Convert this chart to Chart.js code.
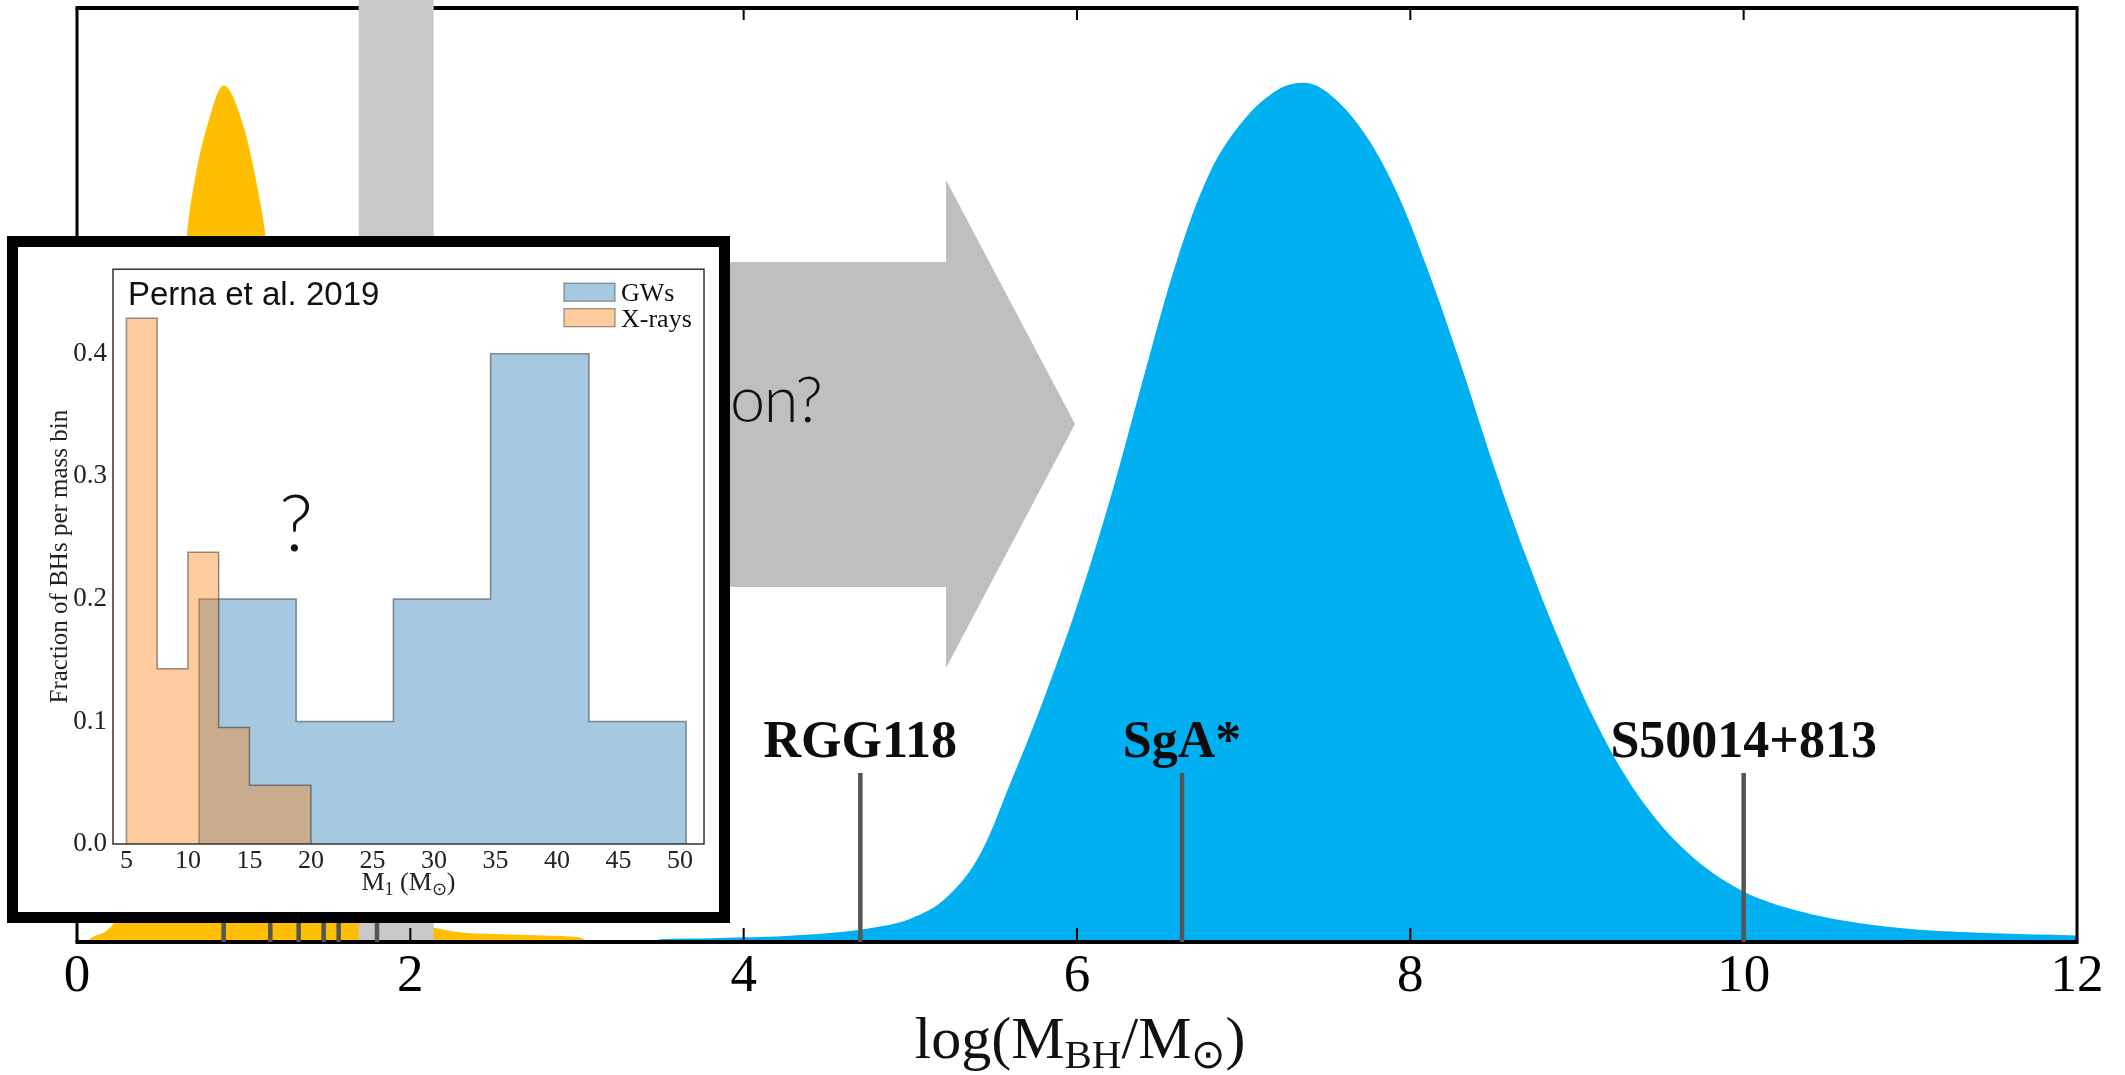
<!DOCTYPE html>
<html lang="en">
<head>
<meta charset="UTF-8" />
<title>Black hole mass distribution</title>
<style>
  body { margin: 0; background: #fff; }
  #stage { position: relative; width: 2125px; height: 1075px; overflow: hidden; background: #fff; }
  #mainChart { position: absolute; left: 0; top: 0; }
  .arrow {
    position: absolute; left: 700px; top: 180px; width: 375px; height: 488px;
    background: #bfbfbf;
    clip-path: polygon(0 82px, 246px 82px, 246px 0, 375px 244px, 246px 488px, 246px 407px, 0 407px);
  }
  .arrow-text {
    position: absolute; left: 730px; top: 366px;
    font-family: 'Lato', 'Roboto', sans-serif; font-weight: 300;
    font-size: 63px; line-height: 63px; letter-spacing: -1.5px; color: #111; white-space: nowrap;
  }
  .inset {
    position: absolute; left: 7px; top: 236px; width: 723px; height: 687px;
    box-sizing: border-box; border: 11px solid #000; background: #fff;
  }
  #insetChart { position: absolute; left: 0; top: 0; }
</style>
</head>
<body>
<div id="stage">
  <canvas id="mainChart" width="2125" height="1075"></canvas>
  <div class="arrow"></div>
  <div class="arrow-text">on?</div>
  <div class="inset">
    <canvas id="insetChart" width="701" height="665"></canvas>
  </div>
</div>

<script src="https://cdn.jsdelivr.net/npm/chart.js@4.4.0/dist/chart.umd.min.js"></script>
<script>
  // main panel: log(M_BH / M_sun)
  const xTicks = [0, 2, 4, 6, 8, 10, 12];

  // stellar-mass black holes (yellow)
  const stellarX = [0.05, 0.10, 0.17, 0.22, 0.30, 0.40, 0.50, 0.58, 0.66, 0.71, 0.78, 0.88, 1.00, 1.07, 1.13,
                    1.20, 1.30, 1.40, 1.50, 1.60, 1.70, 1.85, 2.00, 2.15, 2.27, 2.40, 2.60, 2.80, 2.95, 3.03, 3.06];
  const stellarY = [0.000, 0.006, 0.011, 0.020, 0.045, 0.130, 0.330, 0.560, 0.757, 0.819, 0.873, 0.917, 0.873, 0.819, 0.757,
                    0.640, 0.440, 0.260, 0.140, 0.070, 0.040, 0.025, 0.019, 0.015, 0.011, 0.009, 0.008, 0.007, 0.006, 0.004, 0.000];

  // supermassive black holes (blue)
  const smbhX = [3.45, 3.50, 3.80, 4.00, 4.20, 4.40, 4.60, 4.80, 5.00, 5.20, 5.40, 5.60, 5.80, 6.00, 6.20, 6.40, 6.60,
                 6.80, 7.00, 7.20, 7.36, 7.50, 7.70, 7.90, 8.10, 8.30, 8.50, 8.70, 8.90, 9.10, 9.30, 9.50, 9.70, 9.90,
                 10.10, 10.40, 10.70, 11.00, 11.40, 11.80, 12.00];
  const smbhY = [0.000, 0.003, 0.004, 0.005, 0.006, 0.008, 0.011, 0.016, 0.025, 0.045, 0.088, 0.170, 0.260, 0.360, 0.475, 0.605, 0.730,
                 0.825, 0.880, 0.912, 0.920, 0.910, 0.872, 0.810, 0.722, 0.620, 0.510, 0.410, 0.320, 0.240, 0.175, 0.126, 0.090, 0.064,
                 0.046, 0.030, 0.020, 0.014, 0.010, 0.008, 0.007];

  // mass gap band and individual objects
  const gapRange = [1.69, 2.14];
  const markerX = [0.88, 1.16, 1.33, 1.48, 1.57, 1.80, 4.70, 6.63, 10.00];
  const markerTop = 0.181;
  const labelNames = ['RGG118', 'SgA*', 'S50014+813'];
  const labelX = [4.70, 6.63, 10.00];
  const labelY = 0.198;

  // inset: Perna et al. 2019 histograms
  const gwEdges = [10.9, 18.8, 26.7, 34.6, 42.6, 50.5];
  const gwFrac = [0.2, 0.1, 0.2, 0.4, 0.1];
  const xrEdges = [5.0, 7.5, 10.0, 12.5, 15.0, 17.5, 20.0];
  const xrFrac = [0.429, 0.143, 0.238, 0.095, 0.048, 0.048];
  const insetXTicks = [5, 10, 15, 20, 25, 30, 35, 40, 45, 50];
  const insetYTicks = [0.0, 0.1, 0.2, 0.3, 0.4];

  const serif = "'Liberation Serif', 'Times New Roman', serif";

  function toPoints(xs, ys) {
    return xs.map((x, i) => ({ x, y: ys[i] }));
  }

  // histogram outline as a stepped line
  function stepPoints(edges, vals) {
    const pts = [{ x: edges[0], y: 0 }];
    vals.forEach((v, i) => pts.push({ x: edges[i], y: v }));
    pts.push({ x: edges[edges.length - 1], y: 0 });
    return pts;
  }

  // text with subscripts, centred on cx
  function drawSubText(ctx, parts, cx, baseY, bigFont, smallFont, drop) {
    let total = 0;
    const widths = parts.map(([t, sub]) => {
      ctx.font = sub ? smallFont : bigFont;
      const w = ctx.measureText(t).width;
      total += w;
      return w;
    });
    let px = cx - total / 2;
    ctx.textAlign = 'left';
    ctx.textBaseline = 'alphabetic';
    parts.forEach(([t, sub], i) => {
      ctx.font = sub ? smallFont : bigFont;
      ctx.fillText(t, px, baseY + (sub ? drop : 0));
      px += widths[i];
    });
  }

  const mainBack = {
    id: 'mainBack',
    beforeDatasetsDraw(chart) {
      const { ctx, chartArea: a, scales: { x } } = chart;
      ctx.save();
      ctx.strokeStyle = '#000';
      ctx.lineWidth = 4;
      ctx.beginPath();
      ctx.moveTo(a.left - 1.5, a.top);
      ctx.lineTo(a.right + 1.5, a.top);
      ctx.stroke();
      ctx.lineWidth = 2;
      xTicks.forEach(v => {
        const px = x.getPixelForValue(v);
        ctx.beginPath();
        ctx.moveTo(px, a.top);
        ctx.lineTo(px, a.top + 12);
        ctx.stroke();
      });
      ctx.restore();
    }
  };

  const mainFront = {
    id: 'mainFront',
    afterDatasetsDraw(chart) {
      const { ctx, chartArea: a, scales: { x, y } } = chart;
      const y0 = y.getPixelForValue(0);
      ctx.save();
      // mass gap band, runs up past the frame
      const g0 = x.getPixelForValue(gapRange[0]);
      const g1 = x.getPixelForValue(gapRange[1]);
      ctx.fillStyle = '#c9c9c9';
      ctx.fillRect(g0, 0, g1 - g0, y0);

      // frame: left, right, bottom + inward ticks
      ctx.strokeStyle = '#000';
      ctx.lineWidth = 3;
      ctx.beginPath();
      ctx.moveTo(a.left, a.top);
      ctx.lineTo(a.left, a.bottom);
      ctx.moveTo(a.right, a.top);
      ctx.lineTo(a.right, a.bottom);
      ctx.stroke();
      ctx.lineWidth = 4;
      ctx.beginPath();
      ctx.moveTo(a.left - 1.5, a.bottom);
      ctx.lineTo(a.right + 1.5, a.bottom);
      ctx.stroke();
      ctx.lineWidth = 2;
      xTicks.forEach(v => {
        const px = x.getPixelForValue(v);
        ctx.beginPath();
        ctx.moveTo(px, a.bottom);
        ctx.lineTo(px, a.bottom - 14);
        ctx.stroke();
      });

      // individual black holes
      ctx.strokeStyle = '#555';
      ctx.lineWidth = 4.5;
      markerX.forEach(v => {
        const px = x.getPixelForValue(v);
        ctx.beginPath();
        ctx.moveTo(px, y0);
        ctx.lineTo(px, y.getPixelForValue(markerTop));
        ctx.stroke();
      });

      ctx.fillStyle = '#0d0d0d';
      ctx.font = 'bold 52px ' + serif;
      ctx.textAlign = 'center';
      ctx.textBaseline = 'alphabetic';
      labelNames.forEach((name, i) => {
        ctx.fillText(name, x.getPixelForValue(labelX[i]), y.getPixelForValue(labelY));
      });
      ctx.restore();
    },
    afterDraw(chart) {
      const { ctx, chartArea: a } = chart;
      ctx.save();
      ctx.fillStyle = '#111';
      drawSubText(ctx, [['log(M', false], ['BH', true], ['/M', false], ['\u2299', true], [')', false]],
        (a.left + a.right) / 2 + 3, a.bottom + 116, '60px ' + serif, '41px ' + serif, 10);
      ctx.restore();
    }
  };

  new Chart(document.getElementById('mainChart'), {
    type: 'line',
    data: {
      datasets: [
        {
          label: 'Stellar-mass BHs',
          data: toPoints(stellarX, stellarY),
          backgroundColor: '#ffbf00',
          borderWidth: 0,
          pointRadius: 0,
          fill: 'origin',
          cubicInterpolationMode: 'monotone'
        },
        {
          label: 'Supermassive BHs',
          data: toPoints(smbhX, smbhY),
          backgroundColor: '#00b0f0',
          borderWidth: 0,
          pointRadius: 0,
          fill: 'origin',
          tension: 0.35
        }
      ]
    },
    options: {
      responsive: false,
      animation: false,
      layout: { padding: { left: 77, right: 48, top: 8, bottom: 0 } },
      plugins: { legend: { display: false }, tooltip: { enabled: false } },
      scales: {
        x: {
          type: 'linear',
          min: 0,
          max: 12,
          afterBuildTicks: s => { s.ticks = xTicks.map(v => ({ value: v })); },
          afterFit: s => { s.height = 133; },
          grid: { display: false, drawTicks: false },
          border: { display: false },
          ticks: { color: '#000', padding: 3, font: { family: serif, size: 53 } }
        },
        y: { min: 0, max: 1, display: false }
      }
    },
    plugins: [mainBack, mainFront]
  });

  const insetDecor = {
    id: 'insetDecor',
    afterDatasetsDraw(chart) {
      const { ctx, chartArea: a } = chart;
      ctx.save();
      ctx.strokeStyle = '#333';
      ctx.lineWidth = 1.5;
      ctx.strokeRect(a.left, a.top, a.right - a.left, a.bottom - a.top);

      // legend
      const sets = chart.data.datasets;
      ctx.font = '26px ' + serif;
      ctx.textAlign = 'left';
      ctx.textBaseline = 'alphabetic';
      [sets[0], sets[1]].forEach((ds, i) => {
        const top = a.top + 14 + i * 25.5;
        ctx.fillStyle = ds.backgroundColor;
        ctx.fillRect(a.right - 140, top, 51, 18);
        ctx.strokeStyle = ds.borderColor;
        ctx.lineWidth = 1.2;
        ctx.strokeRect(a.right - 140, top, 51, 18);
        ctx.fillStyle = '#111';
        ctx.fillText(ds.label, a.right - 83, top + 18);
      });

      ctx.fillStyle = '#111';
      ctx.font = "33px 'Liberation Sans', Arial, sans-serif";
      ctx.fillText('Perna et al. 2019', a.left + 15, a.top + 36);

      ctx.font = "300 78px 'Lato', 'Roboto', sans-serif";
      ctx.textAlign = 'center';
      ctx.fillText('?', a.left + 183, a.top + 282);
      ctx.restore();
    },
    afterDraw(chart) {
      const { ctx, chartArea: a } = chart;
      ctx.save();
      ctx.fillStyle = '#222';
      drawSubText(ctx, [['M', false], ['1', true], [' (M', false], ['\u2299', true], [')', false]],
        (a.left + a.right) / 2, a.bottom + 46, '26px ' + serif, '18px ' + serif, 5);
      ctx.restore();
    }
  };

  new Chart(document.getElementById('insetChart'), {
    type: 'line',
    data: {
      datasets: [
        {
          label: 'GWs',
          data: stepPoints(gwEdges, gwFrac),
          stepped: 'before',
          backgroundColor: 'rgba(31,119,180,0.4)',
          borderColor: 'rgba(40,40,40,0.5)',
          borderWidth: 1.5,
          pointRadius: 0,
          fill: 'origin',
          order: 2
        },
        {
          label: 'X-rays',
          data: stepPoints(xrEdges, xrFrac),
          stepped: 'before',
          backgroundColor: 'rgba(255,127,14,0.4)',
          borderColor: 'rgba(40,40,40,0.5)',
          borderWidth: 1.5,
          pointRadius: 0,
          fill: 'origin',
          order: 1
        }
      ]
    },
    options: {
      responsive: false,
      animation: false,
      layout: { padding: { left: 0, right: 15, top: 21, bottom: 0 } },
      plugins: { legend: { display: false }, tooltip: { enabled: false } },
      scales: {
        x: {
          type: 'linear',
          min: 3.91,
          max: 51.95,
          afterBuildTicks: s => { s.ticks = insetXTicks.map(v => ({ value: v })); },
          afterFit: s => { s.height = 68; },
          grid: { display: false, drawTicks: false },
          border: { display: false },
          ticks: { color: '#222', padding: 2, font: { family: serif, size: 26 } }
        },
        y: {
          min: 0,
          max: 0.469,
          afterBuildTicks: s => { s.ticks = insetYTicks.map(v => ({ value: v })); },
          afterFit: s => { s.width = 95; },
          grid: { display: false, drawTicks: false },
          border: { display: false },
          ticks: { color: '#222', padding: 6, font: { family: serif, size: 27 }, callback: v => v.toFixed(1) },
          title: {
            display: true,
            text: 'Fraction of BHs per mass bin',
            color: '#222',
            padding: { top: 27, bottom: 0 },
            font: { family: serif, size: 25 }
          }
        }
      }
    },
    plugins: [insetDecor]
  });
</script>
</body>
</html>
